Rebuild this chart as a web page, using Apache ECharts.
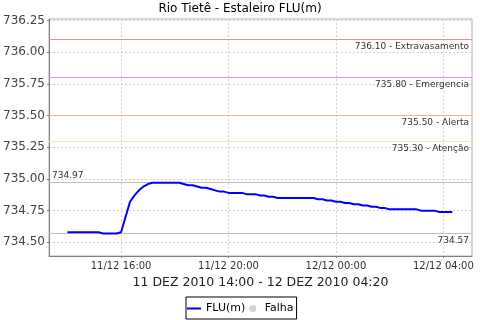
<!DOCTYPE html>
<html>
<head>
<meta charset="utf-8">
<script src="https://cdn.jsdelivr.net/npm/echarts@6/dist/echarts.min.js"></script>
<style>
html,body{margin:0;padding:0;background:#fff;}
#chart{width:480px;height:320px;}
</style>
</head>
<body>
<div id="chart"></div>
<script>
// ---- data ----
var times = ['14:00','14:10','14:20','14:30','14:40','14:50','15:00','15:10','15:20','15:30','15:40','15:50',
  '16:00','16:10','16:20','16:30','16:40','16:50','17:00','17:10','17:20','17:30','17:40','17:50',
  '18:00','18:10','18:20','18:30','18:40','18:50','19:00','19:10','19:20','19:30','19:40','19:50',
  '20:00','20:10','20:20','20:30','20:40','20:50','21:00','21:10','21:20','21:30','21:40','21:50',
  '22:00','22:10','22:20','22:30','22:40','22:50','23:00','23:10','23:20','23:30','23:40','23:50',
  '00:00','00:10','00:20','00:30','00:40','00:50','01:00','01:10','01:20','01:30','01:40','01:50',
  '02:00','02:10','02:20','02:30','02:40','02:50','03:00','03:10','03:20','03:30','03:40','03:50',
  '04:00','04:10','04:20'];
var fluValues = [734.58,734.58,734.58,734.58,734.58,734.58,734.58,734.58,734.57,734.57,734.57,734.57,
  734.58,734.70,734.82,734.87,734.91,734.94,734.96,734.97,734.97,734.97,734.97,734.97,
  734.97,734.97,734.96,734.95,734.95,734.94,734.93,734.93,734.92,734.91,734.90,734.90,
  734.89,734.89,734.89,734.89,734.88,734.88,734.88,734.87,734.87,734.86,734.86,734.85,
  734.85,734.85,734.85,734.85,734.85,734.85,734.85,734.85,734.84,734.84,734.83,734.83,
  734.82,734.82,734.81,734.81,734.80,734.80,734.79,734.79,734.78,734.78,734.77,734.77,
  734.76,734.76,734.76,734.76,734.76,734.76,734.76,734.75,734.75,734.75,734.75,734.74,
  734.74,734.74,734.74];
var falhaValues = [];
var limitValues = [736.10, 735.80, 735.50, 735.30];
var limitNames = ['Extravasamento', 'Emergencia', 'Alerta', 'Atenção'];
var yTicks = [734.50, 734.75, 735.00, 735.25, 735.50, 735.75, 736.00, 736.25];
var xTickTimes = ['11 16:00', '11 20:00', '12 00:00', '12 04:00'];
var xTickLabels = ['11/12 16:00', '11/12 20:00', '12/12 00:00', '12/12 04:00'];
var titleText = 'Rio Tietê - Estaleiro FLU(m)';
var xAxisName = '11 DEZ 2010 14:00 - 12 DEZ 2010 04:20';

// ---- helpers ----
function ts(day, hhmm) {
  var p = hhmm.split(':');
  return Date.UTC(2010, 11, day, +p[0], +p[1]);
}
function seriesTs(hhmm) {
  var h = +hhmm.split(':')[0];
  return ts(h >= 14 ? 11 : 12, hhmm);
}
var fluData = times.map(function (t, i) { return [seriesTs(t), fluValues[i]]; });
var xTickValues = xTickTimes.map(function (s) { var p = s.split(' '); return ts(+p[0], p[1]); });
var xMin = ts(11, '13:19'), xMax = ts(12, '05:04');
var maxV = Math.max.apply(null, fluValues), minV = Math.min.apply(null, fluValues);
var limitColors = ['#f08c8c', '#ee88ee', '#f0b482', '#f5e6a0'];

var markLabelStyle = { show: true, fontFamily: 'DejaVu Sans', fontSize: 9, color: '#333', distance: [3, 3] };
function refLineSeries(value, color, text, pos) {
  return {
    type: 'line', data: [], silent: true, z: 3,
    color: color,
    itemStyle: { color: color },
    lineStyle: { color: color },
    markLine: {
      silent: true, symbol: 'none', animation: false,
      lineStyle: { color: color, type: 'solid', width: 1, opacity: 1 },
      emphasis: { disabled: true },
      label: Object.assign({}, markLabelStyle, { formatter: text, position: pos }),
      data: [{ yAxis: value }]
    }
  };
}
var refSeries = limitValues.map(function (v, i) {
  return refLineSeries(v, limitColors[i], v.toFixed(2) + ' - ' + limitNames[i], 'insideEndBottom');
});
refSeries.push(refLineSeries(maxV, '#c0c0c0', maxV.toFixed(2), 'insideStartTop'));
refSeries.push(refLineSeries(minV, '#c0c0c0', minV.toFixed(2), 'insideEndBottom'));

var chart = echarts.init(document.getElementById('chart'), null, { renderer: 'canvas' });
chart.setOption({
  animation: false,
  backgroundColor: '#fff',
  title: {
    text: titleText, left: 'center', top: 3, padding: 0,
    textStyle: { fontFamily: 'DejaVu Sans', fontSize: 12, fontWeight: 'normal', color: '#000' }
  },
  grid: { left: 49, right: 8, top: 19, bottom: 64, show: true, borderColor: '#b0b0b0', borderWidth: 1, backgroundColor: '#fff' },
  legend: {
    left: 186, top: 297, padding: [6, 3, 5, 1], itemGap: 4, itemWidth: 14, itemHeight: 7,
    borderColor: '#000', borderWidth: 1, symbolKeepAspect: true,
    textStyle: { fontFamily: 'DejaVu Sans', fontSize: 11, color: '#000' },
    data: [
      { name: 'FLU(m)', icon: 'path://M0,0H14V2H0Z', itemStyle: { color: '#0000ff' } },
      { name: 'Falha', icon: 'circle', itemStyle: { color: '#c8c8c8' } }
    ]
  },
  xAxis: {
    type: 'value', min: xMin, max: xMax,
    name: xAxisName, nameLocation: 'middle', nameGap: 20,
    nameTextStyle: { fontFamily: 'DejaVu Sans', fontSize: 12.5, color: '#222' },
    axisLine: { lineStyle: { color: '#808080', width: 1 } },
    axisTick: { show: true, length: 2, customValues: xTickValues, lineStyle: { color: '#808080' } },
    axisLabel: {
      customValues: xTickValues, margin: 5,
      fontFamily: 'DejaVu Sans', fontSize: 10, color: '#333',
      formatter: function (v) { var i = xTickValues.indexOf(v); return i >= 0 ? xTickLabels[i] : ''; }
    },
    splitLine: { show: true, lineStyle: { color: '#d4d4d4', type: [2, 2], width: 1 } }
  },
  yAxis: {
    type: 'value', min: 734.392, max: 736.262,
    axisLine: { show: true, lineStyle: { color: '#808080', width: 1 } },
    axisTick: { show: true, length: 2, customValues: yTicks, lineStyle: { color: '#808080' } },
    axisLabel: {
      customValues: yTicks, margin: 4,
      fontFamily: 'DejaVu Sans', fontSize: 12, color: '#444',
      formatter: function (v) { return v.toFixed(2); }
    },
    splitLine: { show: true, lineStyle: { color: '#d4d4d4', type: [2, 2], width: 1 } }
  },
  series: [
    {
      name: 'FLU(m)', type: 'line', data: fluData, symbol: 'none', showSymbol: false,
      lineStyle: { color: '#0000ff', width: 2 }, itemStyle: { color: '#0000ff' },
      z: 5
    },
    {
      name: 'Falha', type: 'scatter', data: falhaValues, symbol: 'circle', symbolSize: 6,
      itemStyle: { color: '#c8c8c8' }
    }
  ].concat(refSeries)
});
</script>
</body>
</html>
